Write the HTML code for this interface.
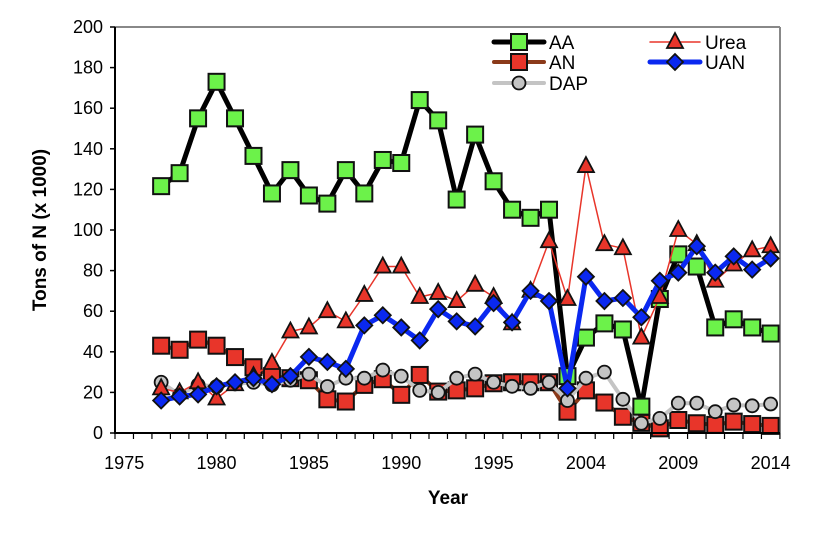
<!DOCTYPE html>
<html><head><meta charset="utf-8">
<style>
body{margin:0;background:#fff;}
svg{display:block;font-family:"Liberation Sans",Arial,sans-serif;}
</style></head><body>
<svg id="c" width="814" height="540" viewBox="0 0 814 540" xmlns="http://www.w3.org/2000/svg">
<rect width="814" height="540" fill="#fff"/>
<line x1="115" y1="27" x2="780" y2="27" stroke="#888" stroke-width="2"/>
<line x1="780" y1="27" x2="780" y2="433" stroke="#888" stroke-width="2"/>
<g id="ax"></g>
<g id="series"></g>
<line x1="115" y1="27" x2="115" y2="434" stroke="#000" stroke-width="2"/>
<line x1="114" y1="433" x2="780" y2="433" stroke="#000" stroke-width="2"/>
<text x="448" y="504" font-size="19" font-weight="bold" text-anchor="middle">Year</text>
<text transform="translate(46,230) rotate(-90)" font-size="19" font-weight="bold" text-anchor="middle">Tons of N (x 1000)</text>
<g id="leg" font-size="18"></g>
</svg>
<script>
var ns="http://www.w3.org/2000/svg";
function el(p,t,a){var e=document.createElementNS(ns,t);for(var k in a)e.setAttribute(k,a[k]);p.appendChild(e);return e;}
var ax=document.getElementById('ax');
function Y(v){return 433-v*2.03;}
function X(i){return 124.2+18.47*i;}
for(var v=0;v<=200;v+=20){var y=Y(v);el(ax,'line',{x1:110,y1:y,x2:115,y2:y,stroke:'#000','stroke-width':1.5});
 var t=el(ax,'text',{x:103,y:y+6,'font-size':18,'text-anchor':'end'});t.textContent=v;}
for(var i=0;i<=36;i++){var x=115+i*18.47;el(ax,'line',{x1:x,y1:433,x2:x,y2:439,stroke:'#000','stroke-width':1.2});}
var labs=[[0,'1975'],[5,'1980'],[10,'1985'],[15,'1990'],[20,'1995'],[25,'2004'],[30,'2009'],[35,'2014']];
labs.forEach(function(l){var t=el(ax,'text',{x:X(l[0]),y:469,'font-size':18,'text-anchor':'middle'});t.textContent=l[1];});
var AA=[121.6,128,155,173,155,136.5,118,129.5,117,113,129.5,118,134.5,133,164,154,115,147,124,110,106,110,28,47,54,51,13,66,88,82,52,56,52,49];
var UR=[22,20,25,17,24,28,34.5,50,52,60,55,68,82,82,67,69,65,73,67,54,70,94.5,66,131.5,93,91,47,67,100,93,75,83,90,92];
var UAN=[16,18,19,23,25,27,24,28,37.5,35,31.6,53,58,52,45.6,61,55,52.5,64,54.5,70,65,22,77,65,66.5,57,75,79,92,79,87,80.5,86];
var AN=[43,41,46,43,37.4,32.4,28,27,26,16.6,15.5,23.7,26.5,18.8,28.6,20.4,21,22,24.5,25,25,25,10.5,21,15,8,5,2.3,6.4,4.8,4,5.6,4.4,3.5];
var DAP=[25,18.8,23.7,22.9,24.2,25,23.7,26,29,22.9,27,27,31,28,21,20,27,29,25,23,22,25,16,27,30,16.6,4.8,7.2,14.7,14.7,10.5,13.8,13.4,14.3];
var g=document.getElementById('series');
function marker(p,type,x,y,fill){
 if(type=='sq')el(p,'rect',{x:x-8,y:y-8,width:16,height:16,fill:fill,stroke:'#111','stroke-width':2});
 else if(type=='ci')el(p,'circle',{cx:x,cy:y,r:6.5,fill:fill,stroke:'#111','stroke-width':1.8});
 else if(type=='di')el(p,'polygon',{points:(x)+','+(y-8)+' '+(x+8)+','+y+' '+x+','+(y+8)+' '+(x-8)+','+y,fill:fill,stroke:'#111','stroke-width':1.8});
 else if(type=='tr')el(p,'polygon',{points:x+','+(y-9)+' '+(x+8)+','+(y+6)+' '+(x-8)+','+(y+6),fill:fill,stroke:'#111','stroke-width':1.8});
}
function series(d,col,w,type,fill){
 var pts=d.map(function(v,k){return X(k+2).toFixed(1)+','+Y(v).toFixed(1);}).join(' ');
 el(g,'polyline',{points:pts,fill:'none',stroke:col,'stroke-width':w,'stroke-linejoin':'round'});
 d.forEach(function(v,k){marker(g,type,X(k+2),Y(v),fill);});
}
series(AN,'#8b3a1a',4,'sq','#e8352a');
series(DAP,'#c4c4c4',4,'ci','#c4c4c4');
series(AA,'#000',5,'sq','#6cf24a');
series(UR,'#e8352a',1.5,'tr','#e8352a');
series(UAN,'#0a28f0',5,'di','#0a28f0');
var lg=document.getElementById('leg');
function leg(x,y,col,w,type,fill,name){
 el(lg,'line',{x1:x,y1:y,x2:x+50,y2:y,stroke:col,'stroke-width':w,'stroke-linecap':'round'});
 marker(lg,type,x+25,y,fill);
 var t=el(lg,'text',{x:x+55,y:y+7,'font-size':19});t.textContent=name;}
leg(494,42,'#000',5,'sq','#6cf24a','AA');
leg(494,62,'#8b3a1a',4,'sq','#e8352a','AN');
leg(494,83,'#c4c4c4',4,'ci','#c4c4c4','DAP');
leg(650,42,'#e8352a',1.5,'tr','#e8352a','Urea');
leg(650,62,'#0a28f0',5,'di','#0a28f0','UAN');
</script>
</body></html>
